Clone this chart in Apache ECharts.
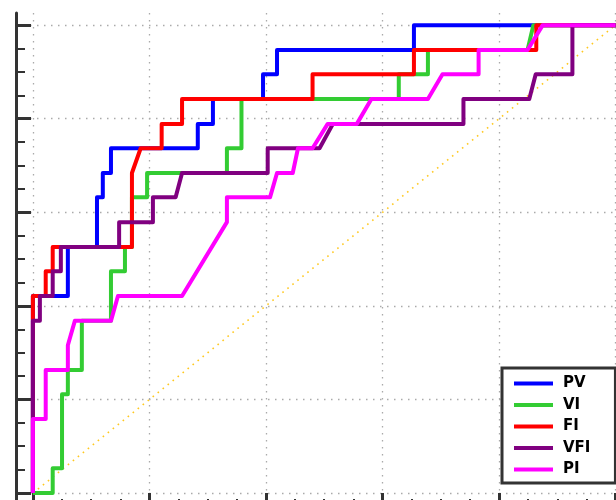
<!DOCTYPE html>
<html><head><meta charset="utf-8">
<script src="https://cdn.jsdelivr.net/npm/echarts@6/dist/echarts.min.js"></script>
<style>html,body{margin:0;padding:0;background:#fff}#c{width:616px;height:500px}</style>
</head><body><div id="c"></div>
<script>
// ROC curves: false positive rate (x) vs true positive rate (y)
const seriesNames = ['PV', 'VI', 'FI', 'VFI', 'PI'];
const seriesColors = ['#0000ff', '#33cc33', '#ff0000', '#800080', '#ff00ff'];

const pvX = [0, 0, 0.060, 0.060, 0.110, 0.110, 0.120, 0.120, 0.134, 0.134, 0.283, 0.283, 0.309, 0.309, 0.395, 0.395, 0.419, 0.419, 0.654, 0.654, 1];
const pvY = [0, 0.421, 0.421, 0.526, 0.526, 0.632, 0.632, 0.684, 0.684, 0.737, 0.737, 0.789, 0.789, 0.842, 0.842, 0.895, 0.895, 0.947, 0.947, 1, 1];

const viX = [0, 0.034, 0.034, 0.050, 0.050, 0.060, 0.060, 0.084, 0.084, 0.134, 0.134, 0.158, 0.158, 0.170, 0.170, 0.196, 0.196, 0.333, 0.333, 0.358, 0.358, 0.628, 0.628, 0.678, 0.678, 0.849, 0.859, 1];
const viY = [0, 0, 0.053, 0.053, 0.211, 0.211, 0.263, 0.263, 0.368, 0.368, 0.474, 0.474, 0.526, 0.526, 0.632, 0.632, 0.684, 0.684, 0.737, 0.737, 0.842, 0.842, 0.895, 0.895, 0.947, 0.947, 1, 1];

const fiX = [0, 0, 0.022, 0.022, 0.034, 0.034, 0.170, 0.170, 0.185, 0.221, 0.221, 0.256, 0.256, 0.480, 0.480, 0.654, 0.654, 0.864, 0.864, 1];
const fiY = [0, 0.421, 0.421, 0.474, 0.474, 0.526, 0.526, 0.684, 0.737, 0.737, 0.789, 0.789, 0.842, 0.842, 0.895, 0.895, 0.947, 0.947, 1, 1];

const vfiX = [0, 0, 0.012, 0.012, 0.034, 0.034, 0.048, 0.048, 0.148, 0.148, 0.206, 0.206, 0.245, 0.256, 0.403, 0.403, 0.492, 0.515, 0.739, 0.739, 0.852, 0.863, 0.926, 0.926, 1];
const vfiY = [0, 0.368, 0.368, 0.421, 0.421, 0.474, 0.474, 0.526, 0.526, 0.579, 0.579, 0.632, 0.632, 0.684, 0.684, 0.737, 0.737, 0.789, 0.789, 0.842, 0.842, 0.895, 0.895, 1, 1];

const piX = [0, 0, 0.022, 0.022, 0.060, 0.060, 0.072, 0.134, 0.146, 0.256, 0.333, 0.333, 0.407, 0.419, 0.446, 0.455, 0.480, 0.506, 0.556, 0.581, 0.678, 0.703, 0.765, 0.765, 0.849, 0.875, 1];
const piY = [0, 0.158, 0.158, 0.263, 0.263, 0.316, 0.368, 0.368, 0.421, 0.421, 0.579, 0.632, 0.632, 0.684, 0.684, 0.737, 0.737, 0.789, 0.789, 0.842, 0.842, 0.895, 0.895, 0.947, 0.947, 1, 1];

const chanceX = [0, 1];
const chanceY = [0, 1];

const majorTicks = [0, 0.2, 0.4, 0.6, 0.8, 1.0];
const minorTicks = [0.05, 0.1, 0.15, 0.25, 0.3, 0.35, 0.45, 0.5, 0.55, 0.65, 0.7, 0.75, 0.85, 0.9, 0.95];

const xs = [pvX, viX, fiX, vfiX, piX];
const ys = [pvY, viY, fiY, vfiY, piY];
const zip = (a, b) => a.map((v, i) => [v, b[i]]);

const spine = '#333333';
const gridStyle = { color: '#aaaaaa', width: 1.3, type: [1.5, 5.5] };

function majorAxis(pos, min, max) {
  return {
    type: 'value', position: pos, min: min, max: max,
    axisLine: { show: true, onZero: false, lineStyle: { color: spine, width: 3 } },
    axisTick: { show: true, inside: true, length: 15, customValues: majorTicks, lineStyle: { color: spine, width: 3 } },
    axisLabel: { show: false },
    splitLine: { show: true, lineStyle: gridStyle },
    minorTick: { show: false }
  };
}
function minorAxis(pos, min, max) {
  return {
    type: 'value', position: pos, min: min, max: max,
    axisLine: { show: false, onZero: false },
    axisTick: { show: true, inside: true, length: 9, customValues: minorTicks, lineStyle: { color: spine, width: 2 } },
    axisLabel: { show: false },
    splitLine: { show: false }
  };
}

const XMIN = -0.029, XMAX = 1.03, YMIN = -0.032, YMAX = 1.026;

const series = [{
  name: 'chance', type: 'line', xAxisIndex: 0, yAxisIndex: 0,
  data: zip(chanceX, chanceY), showSymbol: false, symbol: 'none', silent: true,
  lineStyle: { color: '#ffc820', width: 1.6, type: [1.6, 4.8] }, z: 1
}];
seriesNames.forEach((n, i) => {
  series.push({
    name: n, type: 'line', xAxisIndex: 0, yAxisIndex: 0,
    data: zip(xs[i], ys[i]), symbol: 'none', showSymbol: false,
    color: seriesColors[i],
    lineStyle: { color: seriesColors[i], width: 4, join: 'round', cap: 'butt' },
    z: 2 + i
  });
});

const chart = echarts.init(document.getElementById('c'), null, { renderer: 'canvas' });
chart.setOption({
  animation: false,
  backgroundColor: '#ffffff',
  grid: { left: 16, top: 13, width: 617, height: 495, containLabel: false, outerBoundsMode: 'none' },
  xAxis: [majorAxis('bottom', XMIN, XMAX), minorAxis('bottom', XMIN, XMAX)],
  yAxis: [majorAxis('left', YMIN, YMAX), minorAxis('left', YMIN, YMAX)],
  legend: {
    data: seriesNames, orient: 'vertical', left: 502, top: 368,
    backgroundColor: '#ffffff', borderColor: spine, borderWidth: 3, borderRadius: 0,
    padding: [8, 25, 6, 12], itemGap: 6.5, itemWidth: 39, itemHeight: 4, icon: 'rect',
    selectedMode: false,
    textStyle: { fontFamily: 'DejaVu Sans', fontWeight: 'bold', fontSize: 15, color: '#000', lineHeight: 15, padding: [0, 0, 0, 5] }
  },
  series: series
});
</script></body></html>
